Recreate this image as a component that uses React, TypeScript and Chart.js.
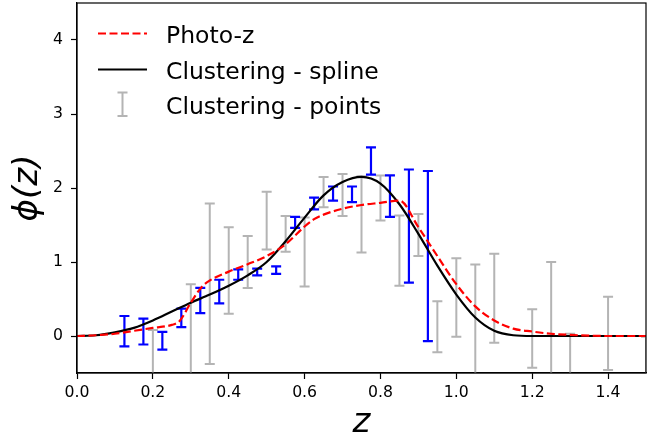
import { useEffect, useRef } from 'react';
import { Chart, registerables } from 'chart.js';

Chart.register(...registerables);

// ---- data ----
const photoZ = [0, 0.05, 0.1, 0.15, 0.2, 0.25, 0.27, 0.3, 0.33, 0.35, 0.4, 0.45, 0.5, 0.55, 0.6, 0.625, 0.65, 0.7, 0.75, 0.8, 0.85, 0.9, 0.95, 1.0, 1.05, 1.1, 1.15, 1.2, 1.25, 1.3, 1.35, 1.4, 1.45, 1.5];
const photoPhi = [0, 0.01, 0.03, 0.07, 0.11, 0.15, 0.2, 0.45, 0.67, 0.75, 0.87, 0.97, 1.08, 1.24, 1.48, 1.58, 1.64, 1.72, 1.77, 1.8, 1.83, 1.47, 1.08, 0.7, 0.4, 0.21, 0.1, 0.06, 0.03, 0.015, 0.005, 0, 0, 0];

const splineZ = [0, 0.05, 0.1, 0.15, 0.2, 0.25, 0.3, 0.35, 0.4, 0.45, 0.5, 0.55, 0.6, 0.65, 0.7, 0.75, 0.8, 0.85, 0.9, 0.95, 1.0, 1.05, 1.1, 1.15, 1.2, 1.25, 1.3, 1.35, 1.4, 1.45, 1.5];
const splinePhi = [0, 0.01, 0.05, 0.11, 0.21, 0.33, 0.45, 0.56, 0.68, 0.82, 1.0, 1.28, 1.6, 1.9, 2.08, 2.15, 2.06, 1.78, 1.38, 0.95, 0.56, 0.25, 0.07, 0.01, 0, 0, 0, 0, 0, 0, 0];

const blueZ = [0.125, 0.175, 0.225, 0.275, 0.325, 0.375, 0.425, 0.475, 0.525, 0.575, 0.625, 0.675, 0.725, 0.775, 0.825, 0.875, 0.925];
const bluePhi = [0.065, 0.06, -0.065, 0.245, 0.48, 0.6, 0.83, 0.865, 0.89, 1.535, 1.79, 1.925, 1.915, 2.365, 1.89, 1.485, 1.08];
const blueErr = [0.205, 0.175, 0.12, 0.125, 0.17, 0.16, 0.07, 0.045, 0.05, 0.075, 0.08, 0.095, 0.105, 0.185, 0.28, 0.765, 1.15];

const grayZ = [0.2, 0.3, 0.35, 0.4, 0.45, 0.5, 0.55, 0.6, 0.65, 0.7, 0.75, 0.8, 0.85, 0.9, 0.95, 1.0, 1.05, 1.1, 1.2, 1.25, 1.3, 1.4, 1.5];
const grayPhi = [-0.55, -0.35, 0.705, 0.885, 1.0, 1.56, 1.38, 1.135, 1.945, 1.905, 1.645, 1.865, 1.155, 1.365, 0.125, 0.52, -0.2, 0.51, -0.035, -0.3, -0.6, 0.035, -0.6];
const grayErr = [0.63, 1.05, 1.085, 0.585, 0.35, 0.39, 0.24, 0.465, 0.205, 0.285, 0.515, 0.305, 0.475, 0.285, 0.345, 0.53, 1.165, 0.6, 0.395, 1.3, 0.63, 0.495, 0.59];

const xTicks = [0, 0.2, 0.4, 0.6, 0.8, 1.0, 1.2, 1.4];
const yTicks = [0, 1, 2, 3, 4];
const legendLabels = ['Photo-z', 'Clustering - spline', 'Clustering - points'];
const xTitle = 'z';
const yTitle = 'ϕ(z)';

const RED = '#ff0000';
const BLACK = '#000000';
const BLUE = '#0000ff';
const GRAY = '#b4b4b4';
const FONT = '"DejaVu Sans", sans-serif';

function drawBars(ctx: CanvasRenderingContext2D, chart: any, zs: number[], ys: number[], es: number[], color: string, lw: number) {
  const xs = chart.scales.x;
  const yss = chart.scales.y;
  ctx.strokeStyle = color;
  ctx.lineWidth = lw;
  ctx.setLineDash([]);
  for (let i = 0; i < zs.length; i++) {
    const px = xs.getPixelForValue(zs[i]);
    const top = yss.getPixelForValue(ys[i] + es[i]);
    const bot = yss.getPixelForValue(ys[i] - es[i]);
    ctx.beginPath();
    ctx.moveTo(px, top);
    ctx.lineTo(px, bot);
    ctx.moveTo(px - 5, top);
    ctx.lineTo(px + 5, top);
    ctx.moveTo(px - 5, bot);
    ctx.lineTo(px + 5, bot);
    ctx.stroke();
  }
}

const errorBarPlugin = {
  id: 'errorBars',
  beforeDatasetsDraw(chart: any) {
    const { ctx, chartArea } = chart;
    ctx.save();
    ctx.beginPath();
    ctx.rect(chartArea.left, chartArea.top, chartArea.right - chartArea.left, chartArea.bottom - chartArea.top);
    ctx.clip();
    drawBars(ctx, chart, grayZ, grayPhi, grayErr, GRAY, 2);
    drawBars(ctx, chart, blueZ, bluePhi, blueErr, BLUE, 2.2);
    ctx.restore();
  },
  afterDraw(chart: any) {
    const { ctx, chartArea } = chart;
    const { left, top, right, bottom } = chartArea;
    ctx.save();
    // frame
    ctx.strokeStyle = BLACK;
    ctx.lineWidth = 1.2;
    ctx.setLineDash([]);
    ctx.strokeRect(left, top, right - left, bottom - top);

    // legend
    const lx0 = left + 21;
    const lx1 = left + 70;
    const tx = left + 89;
    const base = [top + 39.5, top + 75.5, top + 111];
    ctx.lineWidth = 2.2;
    ctx.strokeStyle = RED;
    ctx.setLineDash([8, 3.5]);
    ctx.beginPath();
    ctx.moveTo(lx0, top + 30.5);
    ctx.lineTo(lx1, top + 30.5);
    ctx.stroke();
    ctx.setLineDash([]);
    ctx.strokeStyle = BLACK;
    ctx.beginPath();
    ctx.moveTo(lx0, top + 66.5);
    ctx.lineTo(lx1, top + 66.5);
    ctx.stroke();
    ctx.strokeStyle = GRAY;
    ctx.lineWidth = 2;
    const cx = (lx0 + lx1) / 2;
    ctx.beginPath();
    ctx.moveTo(cx, top + 89.5);
    ctx.lineTo(cx, top + 113);
    ctx.moveTo(cx - 5, top + 89.5);
    ctx.lineTo(cx + 5, top + 89.5);
    ctx.moveTo(cx - 5, top + 113);
    ctx.lineTo(cx + 5, top + 113);
    ctx.stroke();

    ctx.fillStyle = BLACK;
    ctx.font = `23.5px ${FONT}`;
    ctx.textAlign = 'left';
    ctx.textBaseline = 'alphabetic';
    legendLabels.forEach((t, i) => ctx.fillText(t, tx, base[i]));

    // axis titles
    ctx.font = `italic 34px ${FONT}`;
    ctx.textAlign = 'center';
    ctx.textBaseline = 'alphabetic';
    ctx.fillText(xTitle, (left + right) / 2, 432);

    ctx.save();
    ctx.translate(28, (top + bottom) / 2);
    ctx.rotate(-Math.PI / 2);
    ctx.textBaseline = 'middle';
    ctx.fillText(yTitle, 0, 0);
    ctx.restore();

    ctx.restore();
  },
};

export default function App() {
  const ref = useRef<HTMLCanvasElement | null>(null);
  useEffect(() => {
    if (!ref.current) return;
    const tickFont = { family: FONT, size: 15.7 };
    const chart = new Chart(ref.current, {
      type: 'line',
      data: {
        datasets: [
          {
            label: legendLabels[0],
            data: photoZ.map((z, i) => ({ x: z, y: photoPhi[i] })),
            borderColor: RED,
            borderWidth: 2.2,
            borderDash: [8, 3.5],
            pointRadius: 0,
            fill: false,
            cubicInterpolationMode: 'monotone',
          },
          {
            label: legendLabels[1],
            data: splineZ.map((z, i) => ({ x: z, y: splinePhi[i] })),
            borderColor: BLACK,
            borderWidth: 2.2,
            pointRadius: 0,
            fill: false,
            cubicInterpolationMode: 'monotone',
          },
        ],
      },
      options: {
        animation: false,
        responsive: false,
        devicePixelRatio: 1,
        layout: { padding: { top: 3, right: 14, left: 0, bottom: 0 } },
        plugins: { legend: { display: false }, tooltip: { enabled: false } },
        scales: {
          x: {
            type: 'linear',
            min: 0,
            max: 1.5,
            afterBuildTicks: (s: any) => {
              s.ticks = xTicks.map((v) => ({ value: v }));
            },
            afterFit: (s: any) => {
              s.height = 64;
              s.paddingLeft = 0;
              s.paddingRight = 0;
            },
            ticks: {
              callback: (v: any) => Number(v).toFixed(1),
              font: tickFont,
              color: BLACK,
              padding: 5,
              maxRotation: 0,
              autoSkip: false,
            },
            grid: { display: true, drawOnChartArea: false, drawTicks: true, tickLength: 6, tickColor: BLACK, tickWidth: 1.2 },
            border: { display: true, color: BLACK, width: 1.2 },
          },
          y: {
            type: 'linear',
            min: -0.5,
            max: 4.5,
            afterBuildTicks: (s: any) => {
              s.ticks = yTicks.map((v) => ({ value: v }));
            },
            afterFit: (s: any) => {
              s.width = 77;
              s.paddingTop = 0;
              s.paddingBottom = 0;
            },
            ticks: {
              callback: (v: any) => String(v),
              font: tickFont,
              color: BLACK,
              padding: 8,
              autoSkip: false,
            },
            grid: { display: true, drawOnChartArea: false, drawTicks: true, tickLength: 6, tickColor: BLACK, tickWidth: 1.2 },
            border: { display: true, color: BLACK, width: 1.2 },
          },
        },
      },
      plugins: [errorBarPlugin],
    } as any);
    return () => chart.destroy();
  }, []);
  return (
    <div style={{ position: 'fixed', left: 0, top: 0, width: 660, height: 437, background: '#fff' }}>
      <canvas ref={ref} width={660} height={437} style={{ width: 660, height: 437, display: 'block' }} />
    </div>
  );
}
